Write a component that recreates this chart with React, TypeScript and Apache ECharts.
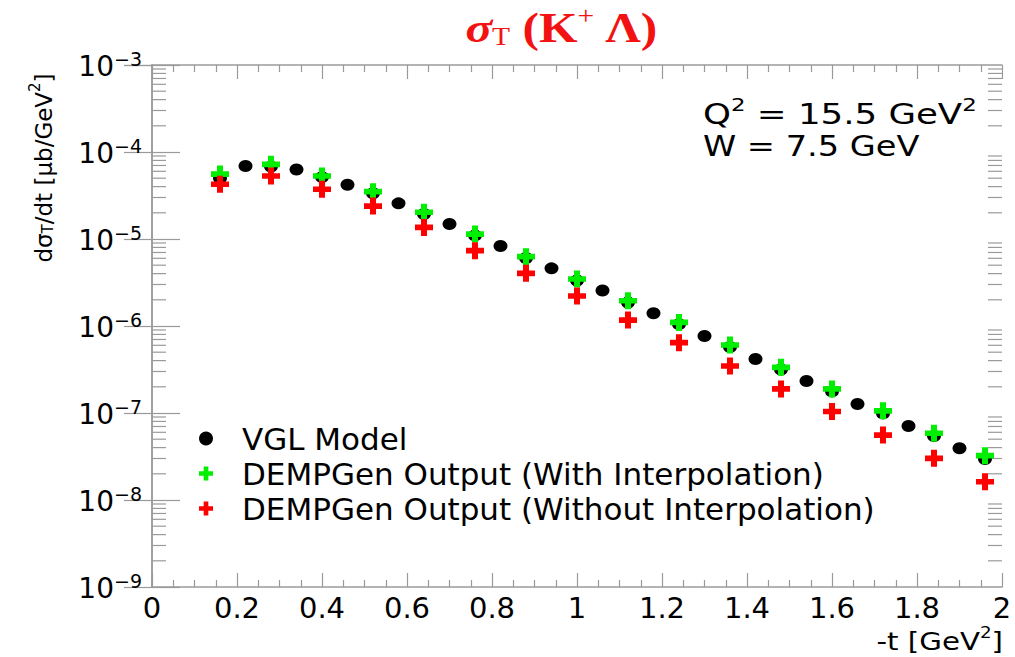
import React, { useEffect, useRef } from "react";
import * as echarts from "echarts";

// -t values [GeV^2] of the VGL model curve points
const vglT = [
  0.16, 0.22, 0.28, 0.34, 0.4, 0.46, 0.52, 0.58, 0.64, 0.7, 0.76, 0.82, 0.88,
  0.94, 1.0, 1.06, 1.12, 1.18, 1.24, 1.3, 1.36, 1.42, 1.48, 1.54, 1.6, 1.66,
  1.72, 1.78, 1.84, 1.9, 1.96,
];
// dsigma_T/dt [ub/GeV^2] from the VGL model
const vglValues = [
  5.0e-5, 6.9e-5, 6.8e-5, 6.3e-5, 5.15e-5, 4.2e-5, 3.35e-5, 2.57e-5, 1.94e-5,
  1.49e-5, 1.1e-5, 8.3e-6, 6.05e-6, 4.6e-6, 3.33e-6, 2.56e-6, 1.86e-6, 1.4e-6,
  1.05e-6, 7.67e-7, 5.74e-7, 4.18e-7, 3.16e-7, 2.33e-7, 1.77e-7, 1.27e-7,
  9.9e-8, 7.1e-8, 5.44e-8, 3.93e-8, 2.96e-8,
];

// -t bins of the DEMPGen output
const dempT = [
  0.16, 0.28, 0.4, 0.52, 0.64, 0.76, 0.88, 1.0, 1.12, 1.24, 1.36, 1.48, 1.6,
  1.72, 1.84, 1.96,
];
const withInterpolation = [
  5.58e-5, 7.22e-5, 5.3e-5, 3.5e-5, 2.03e-5, 1.14e-5, 6.26e-6, 3.47e-6,
  1.95e-6, 1.1e-6, 6.05e-7, 3.35e-7, 1.89e-7, 1.06e-7, 5.85e-8, 3.23e-8,
];
const withoutInterpolation = [
  4.26e-5, 5.3e-5, 3.73e-5, 2.39e-5, 1.36e-5, 7.34e-6, 4.03e-6, 2.21e-6,
  1.17e-6, 6.43e-7, 3.47e-7, 1.89e-7, 1.04e-7, 5.58e-8, 3.01e-8, 1.62e-8,
];

// axis ranges and log-axis minor tick structure
const tRange = [0, 2];
const yRange = [1e-9, 1e-3];
const decades = [1e-9, 1e-8, 1e-7, 1e-6, 1e-5, 1e-4];
const minorMultipliers = [2, 3, 4, 5, 6, 7, 8, 9];

const seriesNames = [
  "VGL Model",
  "DEMPGen Output (With Interpolation)",
  "DEMPGen Output (Without Interpolation)",
];

const AXIS_GREY = "#9a9a9a";
const SANS = "DejaVu Sans, Liberation Sans, Arial, sans-serif";
const SERIF = "Liberation Serif, Times New Roman, serif";
const TITLE_RED = "#f31212";
const CROSS = "path://M6,0H12V6H18V12H12V18H6V12H0V6H6Z";

export default function App() {
  const ref = useRef<HTMLDivElement>(null);

  useEffect(() => {
    if (!ref.current) return;
    const chart = echarts.init(ref.current, null, { renderer: "svg" });

    const yMinor: number[][] = [];
    decades.forEach((d) =>
      minorMultipliers.forEach((m) => yMinor.push([0, m * d]))
    );

    const xAxisCommon = {
      type: "value",
      min: tRange[0],
      max: tRange[1],
      interval: 0.2,
      splitLine: { show: false },
      axisLine: { show: true, lineStyle: { color: AXIS_GREY, width: 1.5 } },
      axisTick: {
        show: true,
        inside: true,
        length: 14,
        lineStyle: { color: AXIS_GREY, width: 1.2 },
      },
      minorTick: {
        show: true,
        splitNumber: 4,
        length: 7,
        lineStyle: { color: AXIS_GREY, width: 1.2 },
      },
      minorSplitLine: { show: false },
    };

    const yAxisCommon = {
      type: "log",
      logBase: 10,
      min: yRange[0],
      max: yRange[1],
      splitNumber: 6,
      splitLine: { show: false },
      axisLine: { show: true, lineStyle: { color: AXIS_GREY, width: 1.5 } },
      axisTick: {
        show: true,
        inside: true,
        length: 28,
        lineStyle: { color: AXIS_GREY, width: 1.2 },
      },
    };

    const supStyle = (size: number) => ({
      fontFamily: SANS,
      fontSize: size,
      lineHeight: size,
      verticalAlign: "top",
      fill: "#000",
      color: "#000",
    });

    chart.setOption({
      animation: false,
      backgroundColor: "#ffffff",
      grid: {
        left: 152,
        right: 13,
        top: 65,
        bottom: 70,
        containLabel: false,
        outerBoundsMode: "none",
      },
      xAxis: [
        {
          ...xAxisCommon,
          position: "bottom",
          axisLabel: {
            show: true,
            margin: 6,
            fontFamily: SANS,
            fontSize: 29,
            color: "#000",
            formatter: (v: number) => String(Math.round(v * 10) / 10),
          },
        },
        {
          ...xAxisCommon,
          position: "top",
          axisLabel: { show: false },
        },
      ],
      yAxis: [
        {
          ...yAxisCommon,
          position: "left",
          axisLabel: {
            show: true,
            margin: 10,
            color: "#000",
            formatter: (v: number) =>
              `{b|10}{s|\u2212${Math.abs(Math.round(Math.log10(v)))}}`,
            rich: {
              b: {
                fontFamily: SANS,
                fontSize: 28,
                lineHeight: 31,
                verticalAlign: "bottom",
                color: "#000",
              },
              s: supStyle(19),
            },
          },
        },
        {
          ...yAxisCommon,
          position: "right",
          axisLabel: { show: false },
        },
      ],
      legend: {
        show: true,
        orient: "vertical",
        left: 194,
        top: 418,
        itemWidth: 62,
        itemHeight: 14,
        itemGap: 4,
        selectedMode: false,
        data: seriesNames,
        textStyle: {
          fontFamily: SANS,
          fontSize: 31,
          lineHeight: 31,
          color: "#000",
        },
      },
      graphic: [
        {
          type: "text",
          x: 562,
          y: 26,
          scaleX: 1.18,
          style: {
            text: "{s|\u03c3}{t|T}{p| (K}{u|+}{p| \u039b)}",
            align: "center",
            verticalAlign: "middle",
            rich: {
              s: {
                fontFamily: SERIF,
                fontSize: 42,
                fontStyle: "italic",
                fontWeight: "bold",
                lineHeight: 46,
                verticalAlign: "bottom",
                fill: TITLE_RED,
              },
              t: {
                fontFamily: SERIF,
                fontSize: 25,
                lineHeight: 25,
                verticalAlign: "bottom",
                fill: TITLE_RED,
              },
              p: {
                fontFamily: SERIF,
                fontSize: 42,
                fontWeight: "bold",
                lineHeight: 46,
                verticalAlign: "bottom",
                fill: TITLE_RED,
              },
              u: {
                fontFamily: SERIF,
                fontSize: 25,
                lineHeight: 25,
                verticalAlign: "top",
                fill: TITLE_RED,
              },
            },
          },
        },
        {
          type: "text",
          x: 41,
          y: 168,
          rotation: Math.PI / 2,
          style: {
            text: "{n|d\u03c3}{d|T}{n|/dt [\u03bcb/GeV}{u|2}{n|]}",
            align: "center",
            verticalAlign: "middle",
            rich: {
              n: {
                fontFamily: SANS,
                fontSize: 23,
                lineHeight: 28,
                verticalAlign: "bottom",
                fill: "#000",
              },
              d: {
                fontFamily: SANS,
                fontSize: 15,
                lineHeight: 15,
                verticalAlign: "bottom",
                fill: "#000",
              },
              u: supStyle(15),
            },
          },
        },
        {
          type: "text",
          x: 1003,
          y: 639,
          scaleX: 1.22,
          style: {
            text: "{n|-t [GeV}{u|2}{n|]}",
            align: "right",
            verticalAlign: "middle",
            rich: {
              n: {
                fontFamily: SANS,
                fontSize: 24,
                lineHeight: 28,
                verticalAlign: "bottom",
                fill: "#000",
              },
              u: supStyle(15),
            },
          },
        },
        {
          type: "text",
          x: 703,
          y: 112,
          scaleX: 1.27,
          style: {
            text: "{n|Q}{u|2}{n| = 15.5 GeV}{u|2}",
            align: "left",
            verticalAlign: "middle",
            rich: {
              n: {
                fontFamily: SANS,
                fontSize: 28,
                lineHeight: 32,
                verticalAlign: "bottom",
                fill: "#000",
              },
              u: supStyle(18),
            },
          },
        },
        {
          type: "text",
          x: 703,
          y: 146,
          scaleX: 1.2,
          style: {
            text: "W = 7.5 GeV",
            align: "left",
            verticalAlign: "middle",
            fontFamily: SANS,
            fontSize: 28,
            fill: "#000",
          },
        },
      ],
      series: [
        {
          name: "yMinorTicks",
          type: "custom",
          silent: true,
          xAxisIndex: 0,
          yAxisIndex: 0,
          encode: { x: 0, y: 1 },
          data: yMinor,
          z: 1,
          renderItem: (params: any, api: any) => {
            const cs = params.coordSys;
            const y = api.coord([0, api.value(1)])[1];
            const style = { stroke: AXIS_GREY, lineWidth: 1.2 };
            return {
              type: "group",
              children: [
                {
                  type: "line",
                  shape: { x1: cs.x, y1: y, x2: cs.x + 14, y2: y },
                  style,
                },
                {
                  type: "line",
                  shape: {
                    x1: cs.x + cs.width - 14,
                    y1: y,
                    x2: cs.x + cs.width,
                    y2: y,
                  },
                  style,
                },
              ],
            };
          },
        },
        {
          name: seriesNames[0],
          type: "scatter",
          symbol: "circle",
          symbolSize: [14, 12],
          itemStyle: { color: "#000000", opacity: 1 },
          data: vglT.map((t, i) => [t, vglValues[i]]),
          z: 3,
        },
        {
          name: seriesNames[1],
          type: "scatter",
          symbol: CROSS,
          symbolSize: [18, 17],
          itemStyle: { color: "#00ee00", opacity: 1 },
          data: dempT.map((t, i) => [t, withInterpolation[i]]),
          z: 4,
        },
        {
          name: seriesNames[2],
          type: "scatter",
          symbol: CROSS,
          symbolSize: [18, 17],
          itemStyle: { color: "#ff0000", opacity: 1 },
          data: dempT.map((t, i) => [t, withoutInterpolation[i]]),
          z: 5,
        },
      ],
    });

    return () => chart.dispose();
  }, []);

  return (
    <div
      ref={ref}
      style={{
        position: "fixed",
        left: 0,
        top: 0,
        width: 1015,
        height: 657,
        background: "#fff",
      }}
    />
  );
}
